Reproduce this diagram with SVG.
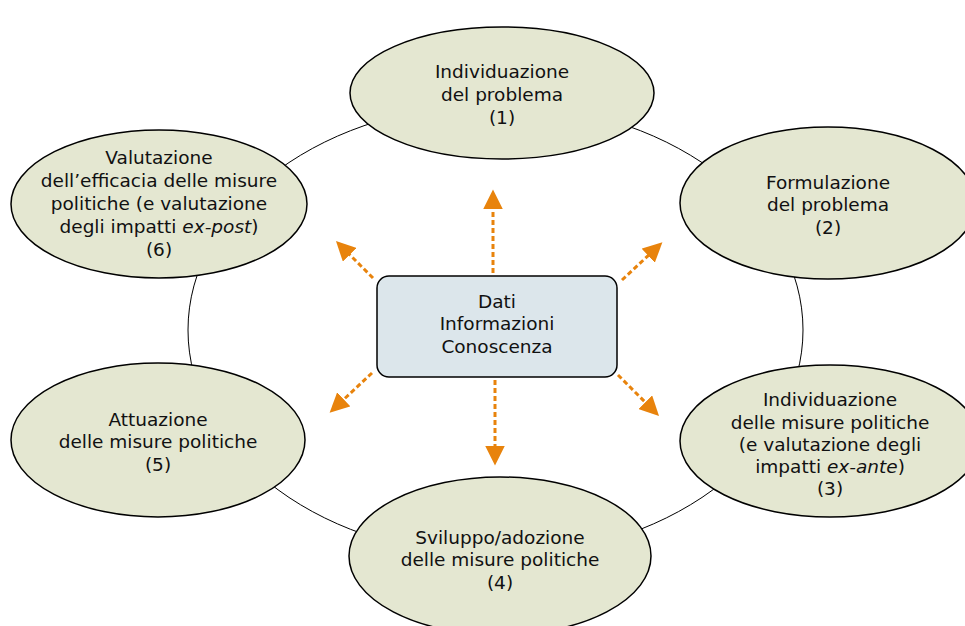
<svg xmlns="http://www.w3.org/2000/svg" width="965" height="626" viewBox="0 0 965 626">
<defs>
<style>
.node ellipse{fill:#e4e7d1;stroke:#000;stroke-width:1.5}
text{font-family:"DejaVu Sans",Verdana,sans-serif;font-size:18.5px;fill:#111;text-anchor:middle}
.arr{stroke:#e8830c;stroke-width:3;stroke-dasharray:5 3;fill:none;marker-end:url(#ah)}
</style>
<marker id="ah" viewBox="0 0 10 10" refX="2" refY="5" markerWidth="6.5" markerHeight="6.5" markerUnits="strokeWidth" orient="auto">
<path d="M0,0 L10,5 L0,10 Z" fill="#e8830c"/>
</marker>
</defs>
<rect width="965" height="626" fill="#fff"/>
<g id="cycle">
<ellipse cx="495.5" cy="330" rx="307.5" ry="226" fill="none" stroke="#000" stroke-width="1"/>
</g>
<g id="n1" class="node"><ellipse cx="502" cy="93" rx="152" ry="66"/>
<text x="502" y="78">Individuazione</text><text x="502" y="101">del problema</text><text x="502" y="124">(1)</text></g>
<g id="n2" class="node"><ellipse cx="828" cy="203" rx="148" ry="76"/>
<text x="828" y="189">Formulazione</text><text x="828" y="211">del problema</text><text x="828" y="234">(2)</text></g>
<g id="n3" class="node"><ellipse cx="830" cy="441" rx="150" ry="76"/>
<text x="830" y="406">Individuazione</text><text x="830" y="429">delle misure politiche</text><text x="830" y="451">(e valutazione degli</text><text x="830" y="473">impatti <tspan font-style="italic">ex-ante</tspan>)</text><text x="830" y="495">(3)</text></g>
<g id="n4" class="node"><ellipse cx="500" cy="556" rx="151" ry="79"/>
<text x="500" y="544">Sviluppo/adozione</text><text x="500" y="566">delle misure politiche</text><text x="500" y="589">(4)</text></g>
<g id="n5" class="node"><ellipse cx="158" cy="440" rx="147" ry="77"/>
<text x="158" y="426">Attuazione</text><text x="158" y="448">delle misure politiche</text><text x="158" y="471">(5)</text></g>
<g id="n6" class="node"><ellipse cx="159" cy="204" rx="148" ry="74"/>
<text x="159" y="164">Valutazione</text><text x="159" y="187">dell’efficacia delle misure</text><text x="159" y="210">politiche (e valutazione</text><text x="159" y="233">degli impatti <tspan font-style="italic">ex-post</tspan>)</text><text x="159" y="256">(6)</text></g>
<g id="center"><rect x="377" y="276" width="240" height="101" rx="12" fill="#dce6eb" stroke="#000" stroke-width="1.5"/>
<text x="497" y="308">Dati</text><text x="497" y="330">Informazioni</text><text x="497" y="353">Conoscenza</text></g>
<g id="connectors">
<path class="arr" d="M493,273 L493,205"/>
<path class="arr" d="M495,380 L495,450"/>
<path class="arr" d="M373,278 L347,252"/>
<path class="arr" d="M622,280 L651,253"/>
<path class="arr" d="M372,373 L341,402"/>
<path class="arr" d="M618,375 L648,405"/>
</g>
</svg>
